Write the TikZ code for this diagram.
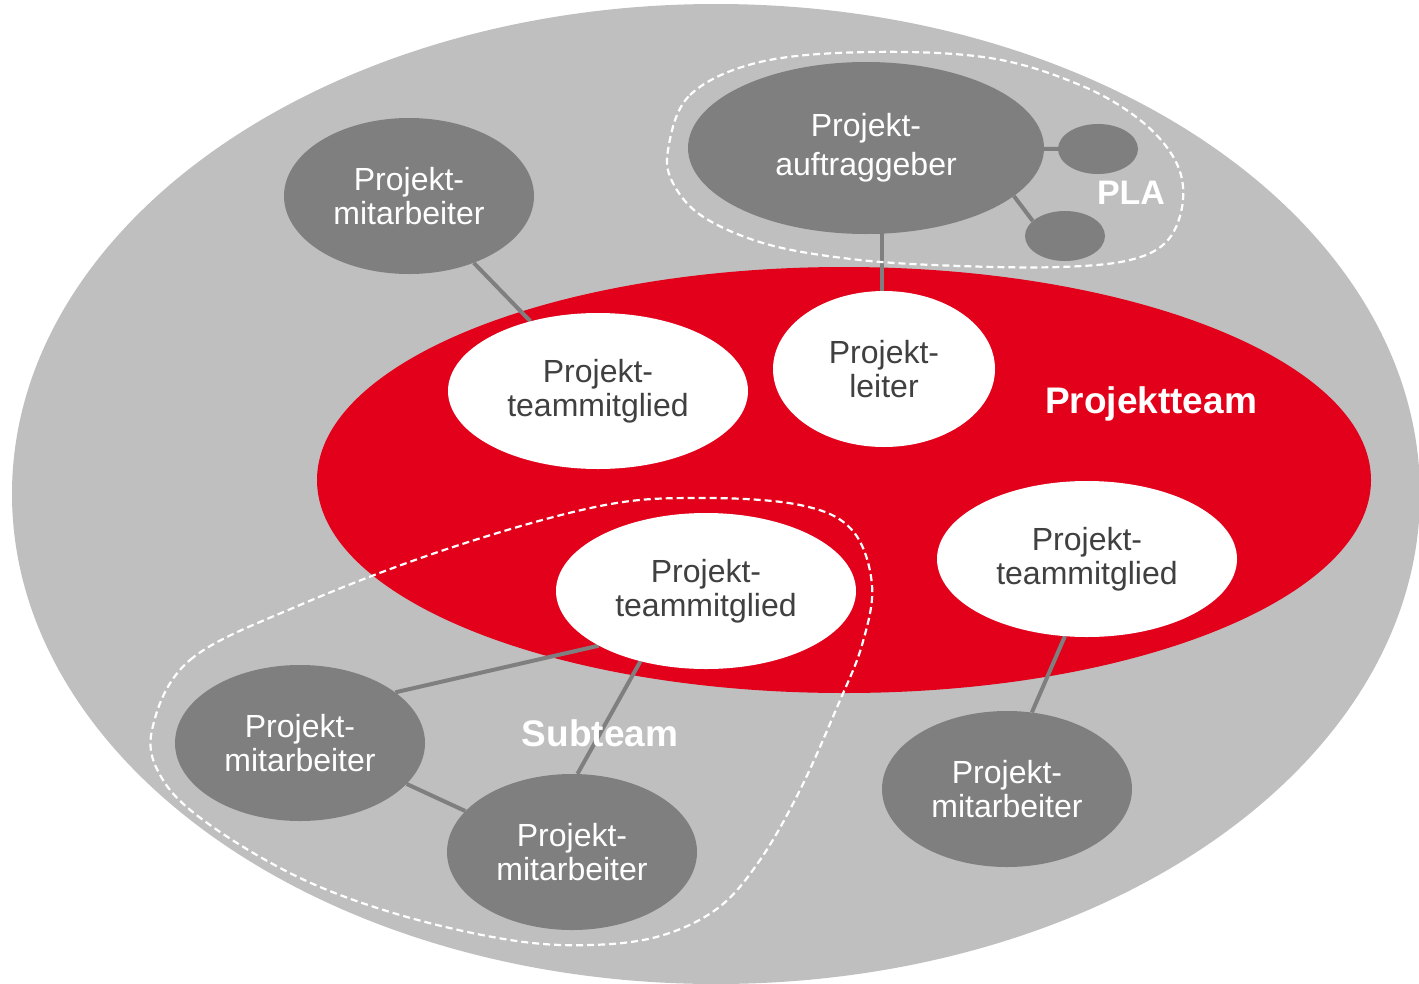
\documentclass[tikz,border=0pt]{standalone}
\usepackage{fontspec}
\setmainfont{Liberation Sans}
\usetikzlibrary{shapes.geometric}
\definecolor{bggray}{HTML}{BFBFBF}
\definecolor{darkgray}{HTML}{7F7F7F}
\definecolor{teamred}{HTML}{E2001A}
\definecolor{txtgray}{HTML}{404040}
\pgfdeclarelayer{bg}
\pgfdeclarelayer{lines}
\pgfsetlayers{bg,lines,main}
\tikzset{
  person/.style={ellipse, inner sep=0pt, align=center, font=\fontsize{32}{34}\selectfont},
  member/.style={person, fill=white, text=txtgray, minimum width=300pt, minimum height=156pt},
  worker/.style={person, fill=darkgray, text=white, minimum width=250pt, minimum height=156pt},
  minor/.style={ellipse, inner sep=0pt, fill=darkgray, minimum width=80pt, minimum height=50pt},
  link/.style={draw=darkgray, line width=4pt},
  groupline/.style={draw=white, line width=2.2pt, dash pattern=on 7pt off 4pt},
  grouplabel/.style={text=white, font=\bfseries\fontsize{37}{40}\selectfont}
}
\begin{document}
\begin{tikzpicture}[x=1pt,y=-1pt]
\useasboundingbox (0,0) rectangle (1419,983);
\begin{scope}
\clip (0,0) rectangle (1419,983);
\begin{pgfonlayer}{bg}
  \node[ellipse, fill=bggray, minimum width=1408pt, minimum height=980pt, inner sep=0pt] (outer) at (716,494) {};
  \node[ellipse, fill=teamred, minimum width=1054pt, minimum height=426pt, inner sep=0pt] (team) at (844,480) {};
\end{pgfonlayer}
\end{scope}

% inner members
\node[member] (tm1) at (598,391) {Projekt-\\teammitglied};
\node[member, minimum width=222pt] (pl) at (884,369) {Projekt-\\leiter};
\node[member] (tm2) at (1087,559) {Projekt-\\teammitglied};
\node[member] (tm3) at (706,591) {Projekt-\\teammitglied};

% workers
\node[worker] (w1) at (409,196) {Projekt-\\mitarbeiter};
\node[worker, minimum width=356pt, minimum height=172pt, font=\fontsize{32}{39}\selectfont] (pa) at (866,148) {Projekt-\\auftraggeber};
\node[minor] (s1) at (1098,149) {};
\node[minor] (s2) at (1065,236) {};
\node[worker] (w2) at (300,743) {Projekt-\\mitarbeiter};
\node[worker] (w3) at (572,852) {Projekt-\\mitarbeiter};
\node[worker] (w4) at (1007,789) {Projekt-\\mitarbeiter};

% labels
\node[grouplabel] (lteam) at (1151,404) {Projektteam};
\node[grouplabel] (lsub) at (600,733) {Subteam};
\node[grouplabel, font=\bfseries\fontsize{34}{36}\selectfont] (lpla) at (1131,193) {PLA};

% connectors
\begin{pgfonlayer}{lines}
  \draw[link] (w1) -- (tm1);
  \draw[link] ([xshift=-2pt]pl.north) -- ([xshift=-2pt]pl.north |- pa.center);
  \draw[link] (pa.center) -- (s1.center);
  \draw[link] (pa.-18.5) -- (s2.155);
  \draw[link] (tm2.254) -- (w4.72);
  \draw[link] (tm3.207) -- (w2.28);
  \draw[link] (tm3.227.5) -- (w3.86);
  \draw[link] (w2.-21.8) -- (w3.159);
\end{pgfonlayer}

% dashed groups
\draw[groupline] plot[smooth cycle, tension=0.6] coordinates {
  (668,150) (690,95) (760,62) (870,52) (990,58) (1080,85) (1140,120)
  (1175,160) (1183,200) (1168,240) (1130,260) (1060,267) (960,266)
  (860,260) (770,245) (705,218) (674,185)};
\draw[groupline] plot[smooth cycle, tension=0.6] coordinates {
  (152,730) (190,660) (300,605) (450,548) (600,506) (700,498) (800,505)
  (852,530) (872,585) (862,645) (838,705) (800,790) (760,860) (718,908)
  (660,936) (590,945) (510,940) (400,915) (300,878) (210,825) (163,780)};
\end{tikzpicture}
\end{document}
